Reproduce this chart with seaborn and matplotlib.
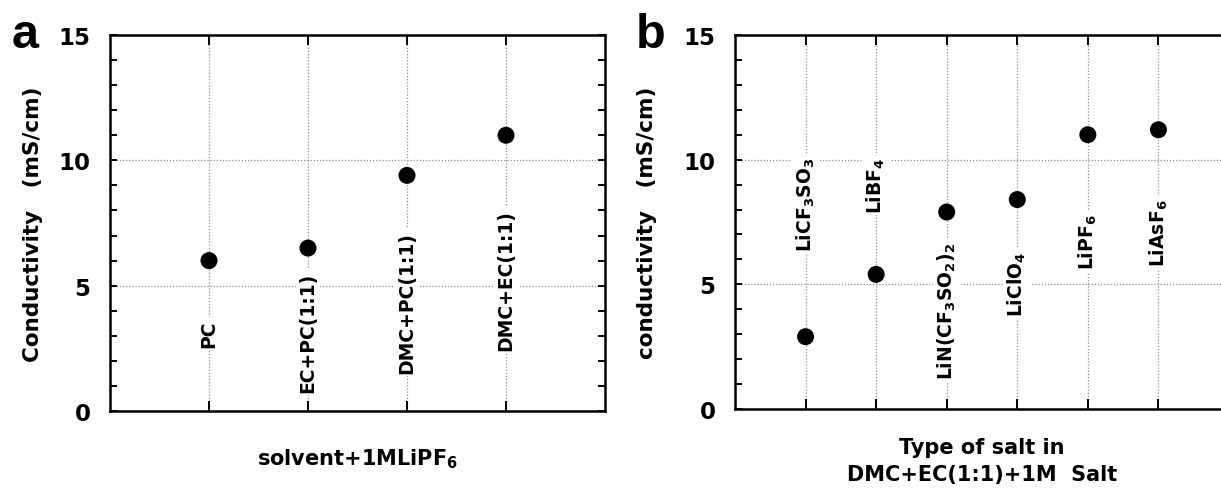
import numpy as np
import pandas as pd
import matplotlib
matplotlib.use("Agg")
import matplotlib.pyplot as plt
import seaborn as sns

# ---- data ----
solvents = ["PC", "EC+PC(1:1)", "DMC+PC(1:1)", "DMC+EC(1:1)"]
solvent_labels = ["PC", "EC+PC(1:1)", "DMC+PC(1:1)", "DMC+EC(1:1)"]
solvent_cond = [6.0, 6.5, 9.4, 11.0]

salts = ["LiCF3SO3", "LiBF4", "LiN(CF3SO2)2", "LiClO4", "LiPF6", "LiAsF6"]
salt_labels = [r"LiCF$_3$SO$_3$", r"LiBF$_4$", r"LiN(CF$_3$SO$_2$)$_2$",
               r"LiClO$_4$", r"LiPF$_6$", r"LiAsF$_6$"]
salt_cond = [2.9, 5.4, 7.9, 8.4, 11.0, 11.2]

yticks = [0, 5, 10, 15]

# label anchor heights (layout only)
solvent_label_y = [2.56, 0.76, 1.52, 2.44]
salt_label_y = [6.32, 7.88, 1.2, 3.72, 5.6, 5.72]

sns.set_style("ticks")
FONT = "DejaVu Sans"
plt.rcParams["font.family"] = [FONT]
plt.rcParams["font.weight"] = "bold"
plt.rcParams["mathtext.fontset"] = "custom"
plt.rcParams["mathtext.rm"] = FONT + ":bold"
plt.rcParams["mathtext.default"] = "rm"
for k in ["text.color", "axes.labelcolor", "xtick.color", "ytick.color", "axes.edgecolor"]:
    plt.rcParams[k] = "black"

W, H = 1221, 489
fig = plt.figure(figsize=(W / 100, H / 100), dpi=100)


def px_axes(left, top, right, bottom):
    return fig.add_axes([left / W, 1 - bottom / H, (right - left) / W, (bottom - top) / H])


ax_a = px_axes(110, 36, 605, 412)
ax_b = px_axes(735, 36, 1229, 410)

df_a = pd.DataFrame({"solvent": solvents, "cond": solvent_cond})
df_b = pd.DataFrame({"salt": salts, "cond": salt_cond})

sns.scatterplot(data=df_a, x="solvent", y="cond", ax=ax_a, s=150, color="black",
                edgecolor="none", zorder=5, legend=False)
sns.scatterplot(data=df_b, x="salt", y="cond", ax=ax_b, s=150, color="black",
                edgecolor="none", zorder=5, legend=False)


def style(ax, n, labels, label_y, ylabel, ylabel_x):
    ax.set_xlim(-1, n)
    ax.set_ylim(0, 15)
    ax.set_yticks(yticks)
    ax.set_yticks(np.arange(0, 16, 1), minor=True)
    ax.set_xticks(range(n))
    ax.set_xticklabels([])
    ax.tick_params(axis="x", direction="in", length=7, width=1.4, top=True, bottom=True)
    ax.tick_params(axis="y", which="both", direction="in", length=5, width=1.4,
                   left=True, right=True, labelsize=16.5, pad=14)
    for sp in ax.spines.values():
        sp.set_visible(True)
        sp.set_linewidth(1.8)
        sp.set_color("black")
    ax.grid(True, which="major", linestyle=(0, (1, 1.5)), color="#8c8c8c", linewidth=0.9)
    ax.set_axisbelow(True)
    for i, (lab, yy) in enumerate(zip(labels, label_y)):
        ax.text(i, yy, lab, rotation=90, ha="center", va="bottom", fontsize=13.5,
                fontweight="bold", zorder=4,
                bbox=dict(boxstyle="square,pad=0.15", fc="white", ec="none"))
    ax.set_ylabel(ylabel, fontsize=15.5, fontweight="bold")
    ax.yaxis.set_label_coords(ylabel_x, 0.5)


style(ax_a, len(solvents), solvent_labels, solvent_label_y,
      "Conductivity   (mS/cm)", -0.136)
style(ax_b, len(salts), salt_labels, salt_label_y,
      "conductivity   (mS/cm)", -0.158)

ax_a.set_xlabel(r"solvent+1MLiPF$_6$", fontsize=15, fontweight="bold")
ax_a.xaxis.set_label_coords(0.5, -0.095)
ax_b.set_xlabel("Type of salt in\nDMC+EC(1:1)+1M  Salt", fontsize=15,
                fontweight="bold", linespacing=1.45)
ax_b.xaxis.set_label_coords(0.5, -0.075)

fig.text(12 / W, 1 - 48 / H, "a", fontsize=35, family="Liberation Sans",
         ha="left", va="baseline", color="black")
fig.text(636 / W, 1 - 48 / H, "b", fontsize=35, family="Liberation Sans",
         ha="left", va="baseline", color="black")

fig.savefig("out.png", dpi=100)
